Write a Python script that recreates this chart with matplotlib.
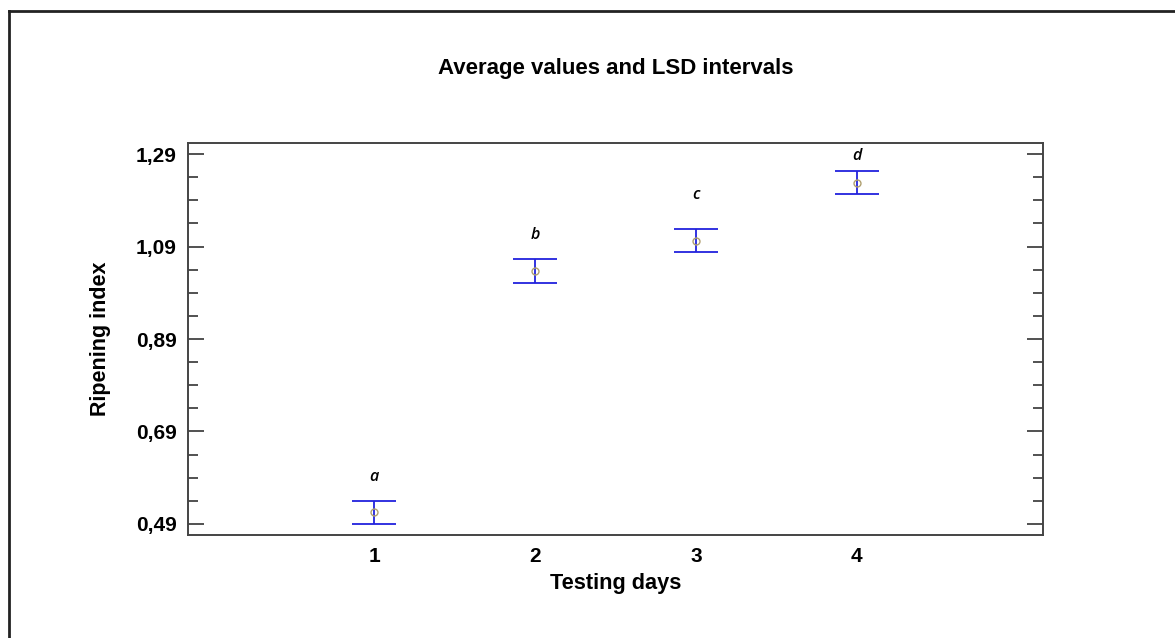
import matplotlib.pyplot as plt
from matplotlib.lines import Line2D

# data
days = [1, 2, 3, 4]
means = [0.515, 1.037, 1.103, 1.228]
lsd_half = [0.025, 0.025, 0.025, 0.025]
groups = ['a', 'b', 'c', 'd']
group_y = [0.592, 1.114, 1.201, 1.286]
yticks = [0.49, 0.69, 0.89, 1.09, 1.29]
ytick_labels = ['0,49', '0,69', '0,89', '1,09', '1,29']

plt.rcParams['font.family'] = ['Liberation Sans', 'DejaVu Sans']

fig = plt.figure(figsize=(11.75, 6.38), dpi=100)
ax = fig.add_axes([188 / 1175, 1 - 535 / 638, (1043 - 188) / 1175, (535 - 143) / 638])

# outer frame (only top and left edges visible)
fig.add_artist(Line2D([9 / 1175, 9 / 1175], [0, 1 - 11 / 638], transform=fig.transFigure,
                      color='#222222', lw=2))
fig.add_artist(Line2D([9 / 1175, 1], [1 - 11 / 638, 1 - 11 / 638], transform=fig.transFigure,
                      color='#222222', lw=2))

ax.errorbar(days, means, yerr=lsd_half, fmt='none', ecolor='#2222dd', elinewidth=1.3,
            capsize=16, capthick=1.3)
ax.plot(days, means, 'o', ms=5, mfc='none', mec='#b0a070', mew=1)

for x, y, g in zip(days, group_y, groups):
    ax.text(x, y, g, ha='center', va='center', style='italic', fontsize=11.5,
            fontweight='semibold', family=['Open Sans', 'DejaVu Sans'])

ax.set_xlim(-0.157, 5.157)
ax.set_ylim(0.466, 1.314)
ax.set_xticks(days)
ax.set_xticklabels([str(d) for d in days], fontweight='bold', fontsize=15)
ax.set_yticks(yticks)
ax.set_yticklabels(ytick_labels, fontweight='bold', fontsize=15)
ax.set_yticks([0.49 + 0.05 * i for i in range(17) if i % 4 != 0], minor=True)
ax.tick_params(axis='x', length=0, pad=9)
ax.tick_params(axis='y', which='major', direction='in', length=11.5, width=1.2,
               left=True, right=True, pad=8, color='#333333')
ax.tick_params(axis='y', which='minor', direction='in', length=7, width=1.2,
               left=True, right=True, color='#333333')
for s in ax.spines.values():
    s.set_color('#444444')
    s.set_linewidth(1.4)

ax.set_title('Average values and LSD intervals', fontweight='bold', fontsize=16, pad=50)
ax.set_xlabel('Testing days', fontweight='bold', fontsize=15.7, labelpad=5)
ax.set_ylabel('Ripening index', fontweight='bold', fontsize=15.5, labelpad=18)

fig.savefig('out.png', dpi=100)
